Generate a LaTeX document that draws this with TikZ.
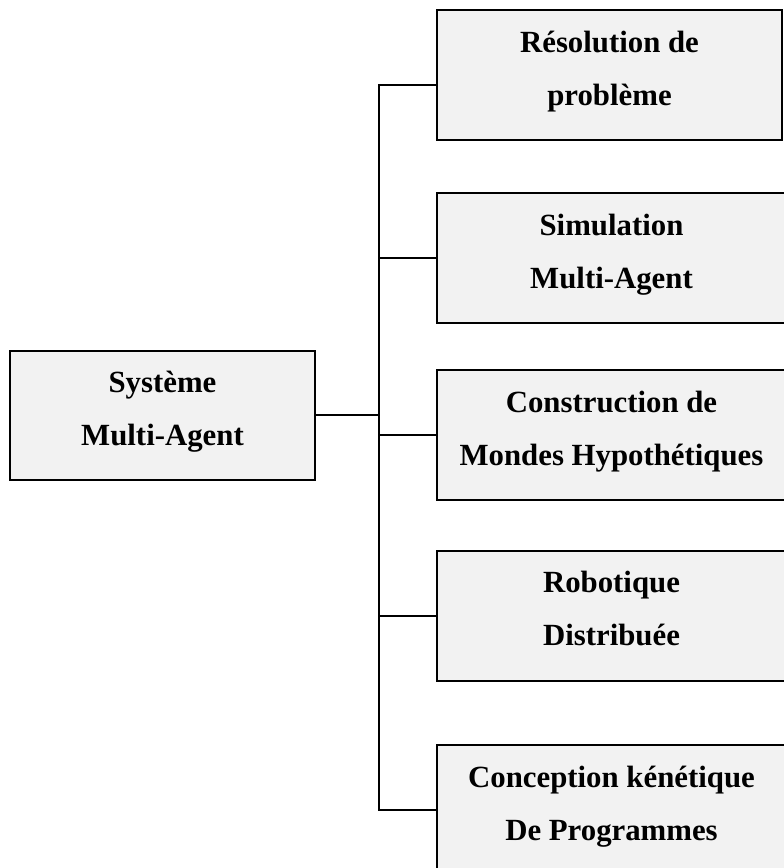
\documentclass[tikz,border=0pt]{standalone}
\usepackage{fontspec}
\setmainfont{Liberation Serif}
\definecolor{boxfill}{HTML}{F2F2F2}
\begin{document}
\begin{tikzpicture}[x=1bp,y=-1bp,
  box/.style={draw=black, fill=boxfill, line width=2bp, inner sep=0pt,
    minimum height=130bp, align=center, text depth=14bp,
    font=\fontsize{30.8bp}{53bp}\selectfont\bfseries},
  link/.style={draw=black, line width=2bp}]
\useasboundingbox (0,0) rectangle (784,868);

% root of the tree
\node[box, minimum width=305bp, minimum height=129bp] (root) at (162.5,415)
  {Système\\Multi-Agent};

% application domains (the last four run past the right edge)
\node[box, minimum width=345bp] (b1) at (609.5,75)  {Résolution de\\problème};
\node[box, minimum width=349bp] (b2) at (611.5,258) {Simulation\\Multi-Agent};
\node[box, minimum width=349bp] (b3) at (611.5,435) {Construction de\\Mondes Hypothétiques};
\node[box, minimum width=349bp] (b4) at (611.5,615.5) {Robotique\\Distribuée};
\node[box, minimum width=349bp] (b5) at (611.5,810) {Conception kénétique\\De Programmes};

% bus connecting the root to every domain
\path (root.east) ++(63,0) coordinate (bus);
\draw[link] (root.east) -- (bus);
\draw[link] ([yshift=-10bp]b1.west) -| (bus) |- (b5.west);
\foreach \n in {b2,b3,b4}
  \draw[link] (bus |- \n.west) -- (\n.west);
\end{tikzpicture}
\end{document}
